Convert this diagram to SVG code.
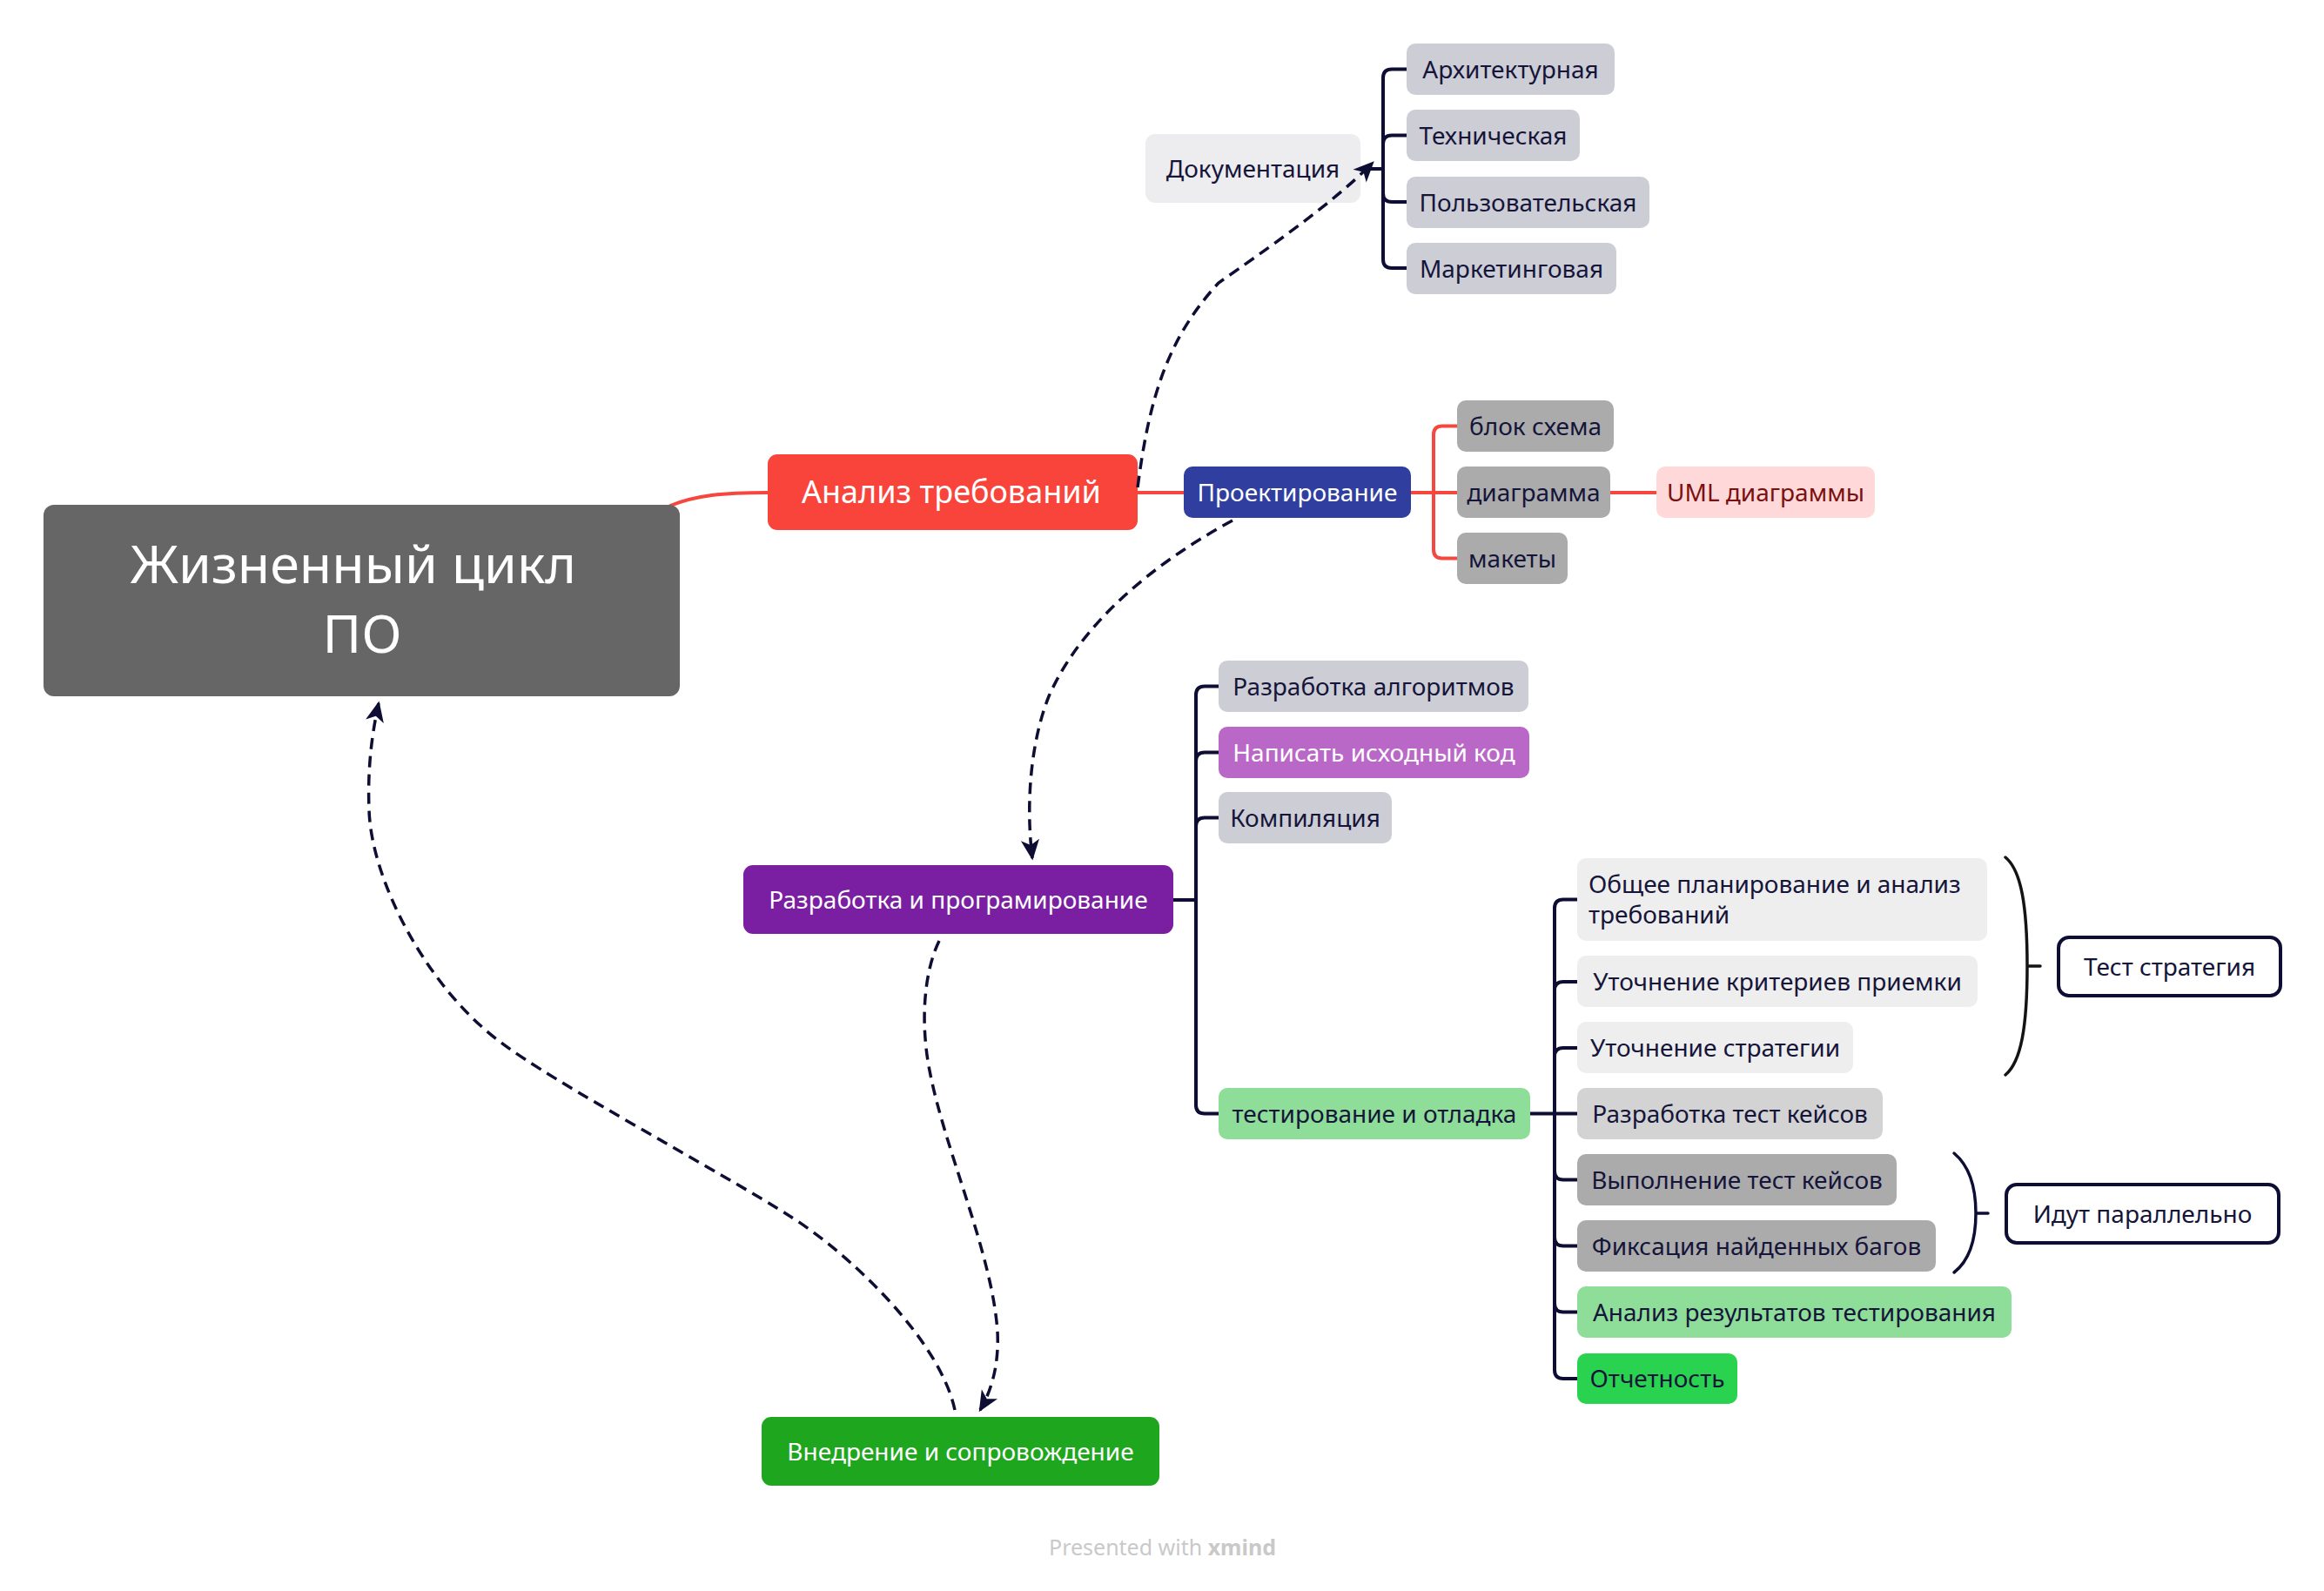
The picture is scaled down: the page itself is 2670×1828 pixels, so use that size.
<svg xmlns="http://www.w3.org/2000/svg" width="2670" height="1828" viewBox="0 0 2670 1828">
<defs>
<style>
.t{font-family:"Noto Sans","Open Sans","DejaVu Sans",sans-serif;font-size:28px;fill:#15153A;text-anchor:middle}
.w{fill:#ffffff}
.big{font-size:61px}
.mid{font-size:36px}
.red{fill:none;stroke:#F5473E;stroke-width:4;stroke-linecap:round}
.nav{fill:none;stroke:#0E0E35;stroke-width:4;stroke-linecap:round}
.dash{fill:none;stroke:#0E0E35;stroke-width:3.5;stroke-dasharray:13 8;marker-end:url(#arr)}
.brace{fill:none;stroke-width:3.5;stroke-linecap:round}
</style>
<marker id="arr" markerUnits="userSpaceOnUse" markerWidth="30" markerHeight="30" viewBox="-20 -12 24 24" refX="0" refY="0" orient="auto">
<path d="M2,0 L-17,-8.5 L-12,0 L-17,8.5 Z" fill="#0E0E35"/>
</marker>
</defs>
<rect width="2670" height="1828" fill="#ffffff"/>

<g id="connectors">
<path class="red" d="M770,581 C800,569 830,566 882,566"/>
<path class="red" d="M1307,566 H1360"/>
<path class="red" d="M1621,566 H1674 M1647,566 V499.5 Q1647,489.5 1657,489.5 H1674 M1647,566 V631.5 Q1647,641.5 1657,641.5 H1674"/>
<path class="red" d="M1850,566 H1903"/>
<path class="nav" d="M1563,194 H1589 M1589,194 V89.5 Q1589,79.5 1599,79.5 H1616 M1589,194 V165.5 Q1589,155.5 1599,155.5 H1616 M1589,194 V222 Q1589,232 1599,232 H1616 M1589,194 V298 Q1589,308 1599,308 H1616"/>
<path class="nav" d="M1348,1034 H1374 M1374,1034 V798.5 Q1374,788.5 1384,788.5 H1400 M1374,1034 V874.5 Q1374,864.5 1384,864.5 H1400 M1374,1034 V949.5 Q1374,939.5 1384,939.5 H1400 M1374,1034 V1269.5 Q1374,1279.5 1384,1279.5 H1400"/>
<path class="nav" d="M1758,1279.5 H1812 M1786,1279.5 V1043.5 Q1786,1033.5 1796,1033.5 H1812 M1786,1279.5 V1138 Q1786,1128 1796,1128 H1812 M1786,1279.5 V1214 Q1786,1204 1796,1204 H1812 M1786,1279.5 V1345.5 Q1786,1355.5 1796,1355.5 H1812 M1786,1279.5 V1421.5 Q1786,1431.5 1796,1431.5 H1812 M1786,1279.5 V1497.5 Q1786,1507.5 1796,1507.5 H1812 M1786,1279.5 V1574 Q1786,1584 1796,1584 H1812"/>
<path class="brace" stroke="#141414" d="M2304,985 C2322,1000 2329,1040 2329,1110 C2329,1180 2322,1220 2304,1235 M2329,1110 H2344"/>
<path class="brace" stroke="#0E0E35" d="M2245,1325 C2263,1340 2270,1365 2270,1394 C2270,1423 2263,1448 2245,1462 M2270,1394 H2284"/>
</g>

<g id="central">
<rect x="50" y="580" width="731" height="220" rx="12" fill="#666666"/>
<text class="t w big" x="406" y="670">Жизненный цикл</text>
<text class="t w big" x="416" y="750">ПО</text>
</g>

<g id="analysis">
<rect x="882" y="522" width="425" height="87" rx="11" fill="#F9443B"/>
<text class="t w mid" x="1093" y="578">Анализ требований</text>
</g>

<g id="docs">
<rect x="1316" y="154" width="247" height="79" rx="11" fill="#EDECEF"/>
<text class="t" x="1439.5" y="204">Документация</text>
</g>
<g id="doc-arch">
<rect x="1616" y="50" width="239" height="59" rx="10" fill="#CDCDD6"/>
<text class="t" x="1735.5" y="90">Архитектурная</text>
</g>
<g id="doc-tech">
<rect x="1616" y="126" width="199" height="59" rx="10" fill="#CDCDD6"/>
<text class="t" x="1715.5" y="166">Техническая</text>
</g>
<g id="doc-user">
<rect x="1616" y="203" width="279" height="59" rx="10" fill="#CDCDD6"/>
<text class="t" x="1755.5" y="243">Пользовательская</text>
</g>
<g id="doc-market">
<rect x="1616" y="279" width="241" height="59" rx="10" fill="#CDCDD6"/>
<text class="t" x="1736.5" y="319">Маркетинговая</text>
</g>

<g id="design">
<rect x="1360" y="536" width="261" height="59" rx="10" fill="#303F9F"/>
<text class="t w" x="1490.5" y="576">Проектирование</text>
</g>
<g id="flowchart">
<rect x="1674" y="460" width="180" height="59" rx="10" fill="#ABABAB"/>
<text class="t" x="1764" y="500">блок схема</text>
</g>
<g id="diagram">
<rect x="1674" y="536" width="176" height="59" rx="10" fill="#ABABAB"/>
<text class="t" x="1762" y="576">диаграмма</text>
</g>
<g id="mockups">
<rect x="1674" y="612" width="127" height="59" rx="10" fill="#ABABAB"/>
<text class="t" x="1737.5" y="652">макеты</text>
</g>
<g id="uml">
<rect x="1903" y="536" width="251" height="59" rx="10" fill="#FFD9D9"/>
<text class="t" x="2028.5" y="576" style="fill:#7A1010">UML диаграммы</text>
</g>

<g id="dev">
<rect x="854" y="994" width="494" height="79" rx="11" fill="#7B1FA2"/>
<text class="t w" x="1101" y="1044">Разработка и програмирование</text>
</g>
<g id="algo">
<rect x="1400" y="759" width="356" height="59" rx="10" fill="#CDCDD6"/>
<text class="t" x="1578" y="799">Разработка алгоритмов</text>
</g>
<g id="code">
<rect x="1400" y="835" width="357" height="59" rx="10" fill="#BA68C8"/>
<text class="t w" x="1578.5" y="875">Написать исходный код</text>
</g>
<g id="compile">
<rect x="1400" y="910" width="199" height="59" rx="10" fill="#CDCDD6"/>
<text class="t" x="1499.5" y="950">Компиляция</text>
</g>
<g id="testing">
<rect x="1400" y="1250" width="358" height="59" rx="10" fill="#8EDD98"/>
<text class="t" x="1579" y="1290">тестирование и отладка</text>
</g>

<g id="t-plan">
<rect x="1812" y="986" width="471" height="95" rx="10" fill="#EEEEEE"/>
<text class="t" x="1825" y="1026" style="text-anchor:start">Общее планирование и анализ</text>
<text class="t" x="1825" y="1061" style="text-anchor:start">требований</text>
</g>
<g id="t-criteria">
<rect x="1812" y="1098" width="460" height="59" rx="10" fill="#EEEEEE"/>
<text class="t" x="2042" y="1138">Уточнение критериев приемки</text>
</g>
<g id="t-strategy">
<rect x="1812" y="1174" width="317" height="59" rx="10" fill="#EEEEEE"/>
<text class="t" x="1970.5" y="1214">Уточнение стратегии</text>
</g>
<g id="t-design">
<rect x="1812" y="1250" width="351" height="59" rx="10" fill="#D3D3D3"/>
<text class="t" x="1987.5" y="1290">Разработка тест кейсов</text>
</g>
<g id="t-exec">
<rect x="1812" y="1326" width="367" height="59" rx="10" fill="#ABABAB"/>
<text class="t" x="1995.5" y="1366">Выполнение тест кейсов</text>
</g>
<g id="t-bugs">
<rect x="1812" y="1402" width="412" height="59" rx="10" fill="#ABABAB"/>
<text class="t" x="2018" y="1442">Фиксация найденных багов</text>
</g>
<g id="t-analysis">
<rect x="1812" y="1478" width="499" height="59" rx="10" fill="#8EDD98"/>
<text class="t" x="2061.5" y="1518">Анализ результатов тестирования</text>
</g>
<g id="t-report">
<rect x="1812" y="1555" width="184" height="58" rx="10" fill="#2AD34F"/>
<text class="t" x="1904" y="1594">Отчетность</text>
</g>

<g id="summary-strategy">
<rect x="2365" y="1077" width="255" height="67" rx="12" fill="#ffffff" stroke="#0E0E35" stroke-width="4"/>
<text class="t" x="2492.5" y="1121">Тест стратегия</text>
</g>
<g id="summary-parallel">
<rect x="2305" y="1361" width="313" height="67" rx="12" fill="#ffffff" stroke="#0E0E35" stroke-width="4"/>
<text class="t" x="2461.5" y="1405">Идут параллельно</text>
</g>

<g id="deploy">
<rect x="875" y="1628" width="457" height="79" rx="11" fill="#1EA71E"/>
<text class="t w" x="1103.5" y="1678">Внедрение и сопровождение</text>
</g>

<g id="relationships">
<path class="dash" d="M1307,560 C1320,460 1340,390 1400,325 C1450,290 1530,235 1577,187"/>
<path class="dash" d="M1416,598 C1320,650 1240,720 1205,800 C1185,850 1178,920 1186,986"/>
<path class="dash" d="M1079,1081 C1060,1120 1058,1180 1068,1230 C1085,1320 1140,1440 1146,1530 C1148,1570 1138,1600 1126,1620"/>
<path class="dash" d="M1097,1620 C1080,1540 977,1441 907,1397 C827,1346 636,1244 576,1198 C490,1135 426,1010 424,930 C422,880 428,840 435,808"/>
</g>

<text x="1205" y="1787" font-family="'Noto Sans','Open Sans',sans-serif" font-size="25" fill="#C9C9C9">Presented with <tspan font-weight="bold">xmind</tspan></text>
</svg>
